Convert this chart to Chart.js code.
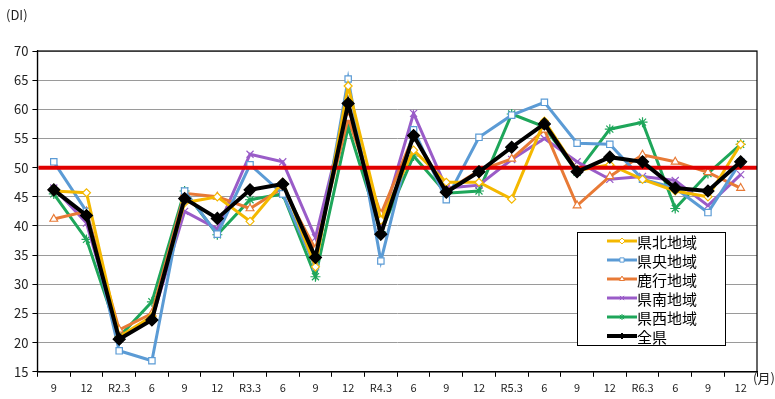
<!DOCTYPE html>
<html>
<head>
<meta charset="utf-8">
<script src="https://cdn.jsdelivr.net/npm/chart.js@4/dist/chart.umd.min.js"></script>
<style>
  html, body { margin: 0; padding: 0; background: #fff; }
  #wrap { width: 775px; height: 399px; }
</style>
</head>
<body>
<div id="wrap"><canvas id="c" width="775" height="399"></canvas></div>
<script>
// 調査時期
const months = ['9', '12', 'R2.3', '6', '9', '12', 'R3.3', '6', '9', '12', 'R4.3',
                '6', '9', '12', 'R5.3', '6', '9', '12', 'R6.3', '6', '9', '12'];

// 地域別 DI
const kenpoku = [46.0, 45.7, 21.0, 24.5, 44.0, 45.0, 40.8, 47.5, 33.0, 64.0, 41.0,
                 53.0, 47.5, 47.5, 44.6, 58.0, 49.5, 50.5, 48.0, 46.0, 45.0, 54.0];
const kenou   = [51.0, 42.5, 18.6, 16.9, 46.0, 38.6, 50.5, 45.5, 33.0, 65.2, 34.0,
                 56.5, 44.5, 55.2, 59.0, 61.2, 54.2, 54.0, 48.0, 46.5, 42.3, 51.0];
const rokkou  = [41.2, 42.5, 22.2, 25.0, 45.6, 45.0, 43.0, 46.5, 36.0, 58.5, 42.0,
                 55.5, 46.0, 49.5, 51.5, 56.5, 43.5, 48.5, 52.2, 51.0, 49.2, 46.5];
const kennan  = [46.5, 40.5, 21.0, 24.0, 42.5, 39.5, 52.3, 51.0, 38.0, 61.0, 40.0,
                 59.3, 46.5, 47.0, 51.4, 55.0, 51.0, 48.0, 48.5, 47.8, 43.5, 48.8];
const kensei  = [45.5, 37.7, 21.0, 27.0, 46.0, 38.5, 44.5, 45.5, 31.3, 57.0, 39.0,
                 52.0, 45.6, 46.0, 59.2, 57.0, 49.2, 56.6, 57.8, 43.0, 49.0, 54.0];
const zenken  = [46.2, 41.8, 20.6, 23.9, 44.7, 41.3, 46.2, 47.2, 34.6, 61.0, 38.6,
                 55.5, 45.8, 49.3, 53.5, 57.5, 49.3, 51.8, 51.0, 46.5, 46.0, 51.0];

const yTicks = [15, 20, 25, 30, 35, 40, 45, 50, 55, 60, 65, 70];
const baseLine = 50;

const FONT = '"Noto Sans CJK JP", "Noto Sans", sans-serif';

const series = [
  { label: '県北地域', data: kenpoku, color: '#F4B800', style: 'rectRot', fill: '#ffffff', r: 4 },
  { label: '県央地域', data: kenou,   color: '#5B9BD5', style: 'rect',    fill: '#ffffff', r: 4.5 },
  { label: '鹿行地域', data: rokkou,  color: '#E87A36', style: 'triangle', fill: '#ffffff', r: 4.5 },
  { label: '県南地域', data: kennan,  color: '#9A5CC8', style: 'crossRot', fill: '#9A5CC8', r: 5 },
  { label: '県西地域', data: kensei,  color: '#1EA65A', style: 'star',    fill: '#1EA65A', r: 5 },
  { label: '全県',     data: zenken,  color: '#000000', style: 'rectRot', fill: '#000000', r: 6 }
];

const datasets = series.map(s => ({
  label: s.label,
  data: s.data,
  borderColor: s.color,
  backgroundColor: s.fill,
  borderWidth: s.label === '全県' ? 4 : 3,
  pointStyle: s.style,
  pointRadius: s.r,
  pointBorderColor: s.color,
  pointBackgroundColor: s.fill,
  pointBorderWidth: 1.2,
  tension: 0,
  order: s.label === '全県' ? 1 : 3
}));

// 赤い基準線 (地域系列の上、全県の下)
const redLine = {
  id: 'redLine',
  beforeDatasetDraw(chart, args) {
    if (chart.data.datasets[args.index].label !== '全県') return;
    const a = chart.chartArea;
    const y = chart.scales.y.getPixelForValue(baseLine);
    const ctx = chart.ctx;
    ctx.save();
    ctx.strokeStyle = '#E00000';
    ctx.lineWidth = 4;
    ctx.beginPath();
    ctx.moveTo(a.left + 1, y);
    ctx.lineTo(a.right, y);
    ctx.stroke();
    ctx.restore();
  }
};

const extras = {
  id: 'extras',
  afterDraw(chart) {
    const ctx = chart.ctx;
    const a = chart.chartArea;
    ctx.save();
    // plot border
    ctx.strokeStyle = '#000';
    ctx.lineWidth = 1.2;
    ctx.strokeRect(a.left, a.top, a.right - a.left, a.bottom - a.top);
    // unit labels
    ctx.fillStyle = '#222';
    ctx.font = '13px ' + FONT;
    ctx.textBaseline = 'middle';
    ctx.textAlign = 'left';
    ctx.fillText('(DI)', 6, 15);
    ctx.fillText('(月)', a.right - 4, a.bottom + 6);

    // legend box
    const lx = 577, ly = 232, lw = 148, lh = 113;
    ctx.fillStyle = '#fff';
    ctx.fillRect(lx, ly, lw, lh);
    ctx.strokeStyle = '#000';
    ctx.lineWidth = 1;
    ctx.strokeRect(lx + 0.5, ly + 0.5, lw, lh);
    ctx.font = '15px ' + FONT;
    series.forEach((s, i) => {
      const y = ly + 9 + i * 19;
      ctx.strokeStyle = s.color;
      ctx.lineWidth = s.label === '全県' ? 4 : 3;
      ctx.beginPath();
      ctx.moveTo(lx + 30, y);
      ctx.lineTo(lx + 60, y);
      ctx.stroke();
      ctx.strokeStyle = s.color;
      ctx.fillStyle = s.fill;
      ctx.lineWidth = 1;
      Chart.helpers.drawPoint(ctx, {
        pointStyle: s.style, radius: 3, borderWidth: 1, rotation: 0
      }, lx + 45, y);
      ctx.fillStyle = '#000';
      ctx.fillText(s.label, lx + 60, y + 1);
    });
    ctx.restore();
  }
};

new Chart(document.getElementById('c'), {
  type: 'line',
  data: { labels: months, datasets: datasets },
  options: {
    responsive: false,
    animation: false,
    layout: { padding: { top: 51, right: 18, left: 10, bottom: 1 } },
    plugins: {
      legend: { display: false },
      tooltip: { enabled: false }
    },
    scales: {
      x: {
        offset: true,
        grid: {
          offset: true,
          drawOnChartArea: false,
          drawTicks: true,
          tickLength: 5,
          color: '#000'
        },
        border: { color: '#000', width: 1.2 },
        ticks: {
          color: '#222',
          font: { family: FONT, size: 11 },
          maxRotation: 0,
          autoSkip: false,
          padding: 4
        }
      },
      y: {
        min: 15,
        max: 70,
        afterBuildTicks(scale) {
          scale.ticks = yTicks.map(v => ({ value: v }));
        },
        grid: {
          color: '#9a9a9a',
          lineWidth: 1,
          drawTicks: true,
          tickLength: 5,
          tickColor: '#000'
        },
        border: { color: '#000', width: 1.2 },
        ticks: {
          color: '#222',
          font: { family: FONT, size: 13 },
          padding: 4
        }
      }
    }
  },
  plugins: [redLine, extras]
});
</script>
</body>
</html>
